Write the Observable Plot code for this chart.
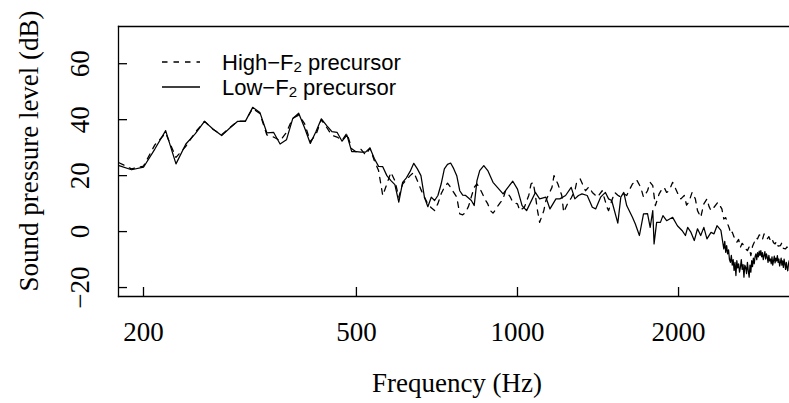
<!DOCTYPE html>
<html><head><meta charset="utf-8">
<script src="https://cdn.jsdelivr.net/npm/d3@7"></script>
<script src="https://cdn.jsdelivr.net/npm/@observablehq/plot@0.6"></script>
<style>html,body{margin:0;padding:0;background:#fff;overflow:hidden} svg{display:block}</style>
</head><body><div id="chart"></div>
<script>
// Low-F2 precursor (solid)
const lowFreq = [180,190,200,210,220,230,240,250,260,270,280,290,300,310,320,330,340,350,360,370,380,390,400,410,420,430,440,450,460,470,480,490,500,510,520,530,540,550,560,570,580,590,600,610,620,630,640,650,660,670,680,690,700,710,720,730,740,750,760,770,780,790,800,810,820,830,840,850,865,880,900,940,960,980,1000,1020,1040,1080,1100,1130,1150,1180,1200,1230,1260,1280,1300,1320,1350,1380,1400,1430,1460,1480,1500,1540,1560,1580,1600,1640,1660,1690,1720,1750,1770,1790,1800,1820,1850,1870,1900,1950,1990,2030,2060,2080,2110,2140,2170,2200,2230,2260,2300,2330,2360,2400,2430,2440,2450,2460,2470,2480,2490,2500,2510,2520,2530,2540,2550,2560,2570,2580,2590,2600,2610,2620,2630,2640,2650,2660,2670,2680,2690,2700,2710,2720,2730,2740,2750,2760,2770,2780,2790,2800,2810,2820,2830,2840,2850,2860,2870,2880,2890,2900,2910,2920,2930,2940,2950,2960,2970,2980,2990,3000,3010,3020,3030,3040,3050,3060,3070,3080,3090,3100,3110,3120,3130,3140,3150,3160,3170,3180,3190,3200,3210,3220];
const lowDb = [23.6,22.1,23.0,29.5,36.1,24.2,31.3,35.0,39.4,36.6,34.3,37.0,39.4,39.4,44.4,42.6,35.3,35.5,31.3,32.8,40.3,42.3,37.1,31.5,35.7,40.3,37.9,35.7,35.5,32.3,34.5,28.6,28.6,28.4,28.4,29.9,26.1,23.3,23.2,20.0,18.2,16.8,10.5,17.6,19.2,21.5,24.4,22.4,20.0,12.3,8.9,12.3,11.1,12.9,17.0,22.4,24.0,24.5,22.5,20.0,14.6,13.0,12.9,12.0,11.1,9.3,18.2,21.8,23.6,21.8,17.6,13.5,15.8,18.0,15.2,9.3,7.5,14.0,11.7,12.3,8.1,11.7,11.7,12.9,15.8,11.7,12.9,13.5,12.9,8.7,8.1,12.3,14.0,11.7,11.1,3.0,12.3,14.0,9.3,5.1,2.8,-1.4,6.3,6.4,1.5,7.5,-4.4,3.3,3.3,5.7,3.9,5.1,2.1,0.4,-1.4,1.5,-0.3,-3.2,1.0,-1.4,1.5,-2.6,-0.3,-0.8,2.1,0.4,-6.2,-3.5,-7.4,-5.0,-8.0,-6.5,-10.0,-11.0,-8.5,-12.0,-10.0,-13.9,-11.0,-15.7,-10.4,-13.0,-11.5,-14.5,-12.8,-10.0,-13.5,-11.8,-16.3,-12.0,-12.8,-15.0,-11.0,-14.0,-16.3,-12.0,-14.5,-10.4,-12.5,-9.5,-11.5,-9.0,-8.0,-10.0,-7.5,-9.0,-7.0,-8.5,-6.8,-9.0,-7.5,-10.0,-8.6,-7.2,-9.8,-8.0,-9.2,-11.0,-8.5,-10.5,-9.8,-11.5,-9.0,-12.0,-10.4,-8.8,-11.2,-9.5,-10.5,-8.6,-11.0,-9.8,-12.3,-11.0,-9.5,-12.0,-10.5,-12.8,-9.8,-11.5,-13.5,-11.0,-12.8,-14.0,-11.5,-10.4];

// High-F2 precursor (dashed)
const highFreq = [180,190,200,210,220,230,240,250,260,270,280,290,300,310,320,330,340,350,360,370,380,390,400,410,420,430,440,450,460,470,480,490,500,510,520,530,540,550,560,570,580,590,600,610,620,630,640,650,660,670,680,690,700,710,720,730,740,750,760,770,780,790,800,810,820,830,840,850,860,870,880,890,900,910,920,930,940,950,960,970,980,1000,1010,1030,1050,1060,1070,1080,1090,1100,1120,1130,1160,1170,1190,1210,1220,1240,1260,1280,1290,1310,1340,1360,1380,1410,1440,1470,1480,1500,1520,1540,1560,1580,1600,1620,1640,1670,1700,1720,1750,1770,1790,1810,1840,1860,1880,1900,1920,1950,1970,2000,2020,2050,2070,2090,2120,2150,2170,2200,2230,2260,2280,2300,2330,2370,2410,2430,2450,2470,2490,2500,2520,2540,2560,2570,2590,2610,2630,2650,2670,2690,2710,2730,2750,2770,2790,2810,2830,2850,2870,2890,2910,2930,2950,2970,2990,3010,3030,3050,3070,3100,3120,3140,3170,3190,3210,3220];
const highDb = [24.6,22.4,23.4,31.0,35.2,26.5,30.5,35.5,39.4,36.5,34.6,37.2,39.4,39.6,44.0,42.2,34.6,33.8,32.5,35.4,40.5,41.6,38.6,32.2,34.6,40.0,37.2,34.4,33.8,32.6,35.2,29.6,28.4,29.4,27.4,29.8,25.4,21.8,12.9,17.0,21.2,18.2,12.3,17.0,18.5,20.0,21.2,18.2,15.0,12.3,9.9,8.5,7.5,10.0,13.5,15.8,17.3,15.8,14.0,12.3,6.3,6.0,6.9,9.0,12.5,15.8,17.0,15.5,13.5,11.5,9.9,7.5,6.6,7.8,9.3,10.5,11.7,14.6,13.5,12.3,10.5,9.9,7.5,8.7,13.0,17.0,17.6,13.0,7.5,3.3,7.5,11.1,15.8,20.0,17.0,12.9,6.9,9.9,12.0,14.6,17.6,18.8,14.6,16.0,14.0,12.3,14.6,8.7,7.5,11.0,14.0,13.0,12.3,13.5,12.9,15.0,17.0,18.5,15.8,12.3,14.6,17.6,16.4,9.3,13.5,15.0,15.8,14.0,14.6,17.6,15.8,13.0,11.7,12.9,9.5,10.5,14.0,11.7,7.5,5.1,9.9,11.7,9.0,7.5,8.7,10.5,8.1,4.5,5.0,2.8,1.0,-0.8,-0.2,-2.0,-3.0,-3.8,-2.8,-5.6,-4.2,-5.0,-6.2,-6.8,-5.5,-8.6,-5.2,-3.8,-2.2,-2.6,-1.2,-1.4,-2.8,-0.8,-2.0,-2.6,-1.8,-3.2,-2.5,-4.0,-4.4,-3.5,-5.2,-5.0,-4.0,-6.0,-6.2,-5.5,-6.8,-6.0];

const seriesNames = ["High\u2212F", "Low\u2212F"];
const seriesSub = "2";
const seriesTail = " precursor";
const xTicks = [200, 500, 1000, 2000];
const yTicks = [-20, 0, 20, 40, 60];
const xDomain = [179.6, 3224];
const yDomain = [-23.2, 73.3];
const xTitle = "Frequency (Hz)";
const yTitle = "Sound pressure level (dB)";

const low = lowFreq.map((f, i) => ({f, db: lowDb[i]}));
const high = highFreq.map((f, i) => ({f, db: highDb[i]}));

const serif = "'Liberation Serif', 'Times New Roman', Times, serif";
const sans = "'Liberation Sans', Arial, Helvetica, sans-serif";
const fmt = d => d < 0 ? "\u2212" + Math.abs(d) : String(d);

const plot = Plot.plot({
  width: 789, height: 403,
  marginLeft: 118, marginRight: 0, marginTop: 26, marginBottom: 107,
  style: {fontFamily: serif, fontSize: "27px", color: "#000", background: "#fff"},
  x: {type: "log", domain: xDomain},
  y: {domain: yDomain},
  marks: [
    Plot.line(high, {x: "f", y: "db", stroke: "#000", strokeWidth: 1.3, strokeDasharray: "5.5,6"}),
    Plot.line(low, {x: "f", y: "db", stroke: "#000", strokeWidth: 1.25}),
    Plot.frame({anchor: "top", stroke: "#000", strokeWidth: 1.3}),
    Plot.frame({anchor: "left", stroke: "#000", strokeWidth: 1.3}),
    Plot.frame({anchor: "bottom", stroke: "#000", strokeWidth: 1.3}),
    Plot.axisX({ticks: xTicks, tickFormat: fmt, tickSize: -9, tickPadding: 34, label: null, fontSize: 27, strokeWidth: 1.3}),
    Plot.axisY({ticks: yTicks, tickFormat: fmt, tickSize: -9, tickPadding: 39, tickRotate: -90, label: null, fontSize: 27, strokeWidth: 1.3})
  ]
});
document.getElementById("chart").appendChild(plot);

const svg = d3.select(plot);
svg.append("text").attr("x", 457).attr("y", 392).attr("text-anchor", "middle")
  .attr("font-family", serif).attr("font-size", 27).attr("fill", "#000").text(xTitle);
svg.append("text").attr("transform", "translate(38,151) rotate(-90)").attr("text-anchor", "middle")
  .attr("font-family", serif).attr("font-size", 27).attr("fill", "#000").text(yTitle);

const leg = svg.append("g").attr("font-family", sans).attr("font-size", 22).attr("fill", "#000").attr("text-anchor", "start");
[["5.5,6", 62], [null, 87]].forEach(([dash, y], i) => {
  const l = leg.append("line").attr("x1", 162).attr("x2", 200).attr("y1", y).attr("y2", y)
    .attr("stroke", "#000").attr("stroke-width", 1.3);
  if (dash) l.attr("stroke-dasharray", dash);
  const t = leg.append("text").attr("x", 222).attr("y", y + 8).attr("text-anchor", "start");
  t.append("tspan").text(seriesNames[i]);
  t.append("tspan").attr("font-size", 15).attr("dy", 2).text(seriesSub);
  t.append("tspan").attr("dy", -2).text(seriesTail);
});
</script>
</body></html>
